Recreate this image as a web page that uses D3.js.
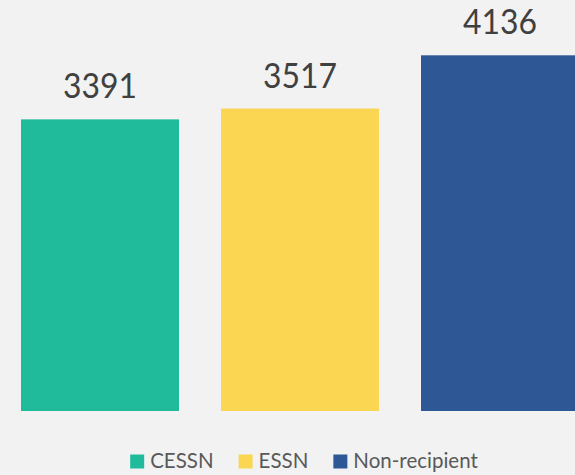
<!DOCTYPE html>
<html>
<head>
<meta charset="utf-8">
<script src="https://cdn.jsdelivr.net/npm/d3@7"></script>
<style>
  html, body { margin: 0; padding: 0; background: #f2f2f2; }
  svg { display: block; }
</style>
</head>
<body>
<svg id="chart" width="575" height="475"></svg>
<script>
const categories = ["CESSN", "ESSN", "Non-recipient"];
const values = [3391, 3517, 4136];
const colors = ["#1fbb9b", "#fad653", "#2e5895"];

const W = 575, H = 475;
const svg = d3.select("#chart");

svg.append("rect").attr("width", W).attr("height", H).attr("fill", "#f2f2f2");

const x = d3.scaleBand().domain(categories).range([21, 579]).paddingInner(0.21).paddingOuter(0);
const y = d3.scaleLinear().domain([0, 4500]).range([411, 24]);

svg.selectAll("rect.bar").data(categories).join("rect")
  .attr("class", "bar")
  .attr("x", d => x(d))
  .attr("width", x.bandwidth())
  .attr("y", (d, i) => y(values[i]))
  .attr("height", (d, i) => y(0) - y(values[i]))
  .attr("fill", (d, i) => colors[i]);

svg.selectAll("text.val").data(categories).join("text")
  .attr("class", "val")
  .attr("x", d => x(d) + x.bandwidth() / 2)
  .attr("y", (d, i) => y(values[i]) - 21)
  .attr("text-anchor", "middle")
  .attr("font-family", "Lato, sans-serif")
  .attr("font-size", 35)
  .attr("fill", "#404040")
  .attr("textLength", 74)
  .attr("lengthAdjust", "spacingAndGlyphs")
  .text((d, i) => values[i]);

// legend
const lg = svg.append("g");
let cx = 0;
categories.forEach((c, i) => {
  const g = lg.append("g").attr("transform", `translate(${cx},0)`);
  g.append("rect").attr("x", 0).attr("y", -13.5).attr("width", 14).attr("height", 14).attr("fill", colors[i]);
  const t = g.append("text").attr("x", 20).attr("y", 0)
    .attr("font-family", "Lato, sans-serif").attr("font-size", 20.5)
    .attr("fill", "#595959").text(c);
  cx += 20 + t.node().getComputedTextLength() + 25;
});
const total = cx - 25;
lg.attr("transform", `translate(${304 - total / 2},468)`);
</script>
</body>
</html>
